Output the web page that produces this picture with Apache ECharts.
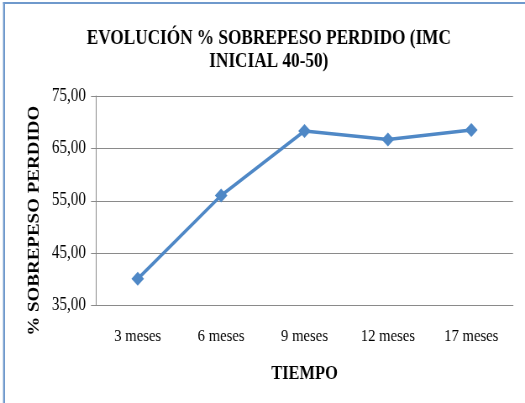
<!DOCTYPE html>
<html><head><meta charset="utf-8">
<script src="https://cdn.jsdelivr.net/npm/echarts@6/dist/echarts.min.js"></script>
<style>html,body{margin:0;padding:0;background:#fff;overflow:hidden;width:525px;height:403px}
#c{width:625px;height:403px;transform:scaleX(0.84);transform-origin:0 0}</style>
</head><body><div id="c"></div>
<script>
const categories = ['3 meses','6 meses','9 meses','12 meses','17 meses'];
const sobrepeso = [40.1, 56.0, 68.3, 66.7, 68.5];
const yTicks = [35, 45, 55, 65, 75];

const chart = echarts.init(document.getElementById('c'));
const serif = 'Liberation Serif, Times New Roman, serif';
chart.setOption({
  animation: false,
  title: {
    text: 'EVOLUCIÓN % SOBREPESO PERDIDO (IMC\nINICIAL 40-50)',
    left: 315, top: 22, textAlign: 'center',
    textStyle: {fontFamily: serif, fontWeight: 'bold', fontSize: 20.5, color: '#000', lineHeight: 23}
  },
  graphic: [
    {type: 'rect', shape: {x: 3.6, y: 2, width: 2.4, height: 401}, style: {fill: '#6f99cc'}},
    {type: 'rect', shape: {x: 3.6, y: 2, width: 622, height: 2}, style: {fill: '#6f99cc'}}
  ],
  grid: {left: 114.3, right: 14.3, top: 96, bottom: 97.5},
  xAxis: {
    type: 'category', data: categories, boundaryGap: true,
    name: 'TIEMPO', nameLocation: 'middle', nameGap: 58,
    nameTextStyle: {fontFamily: serif, fontWeight: 'bold', fontSize: 19.5, color: '#000'},
    axisLine: {lineStyle: {color: '#8a8a8a', width: 1}},
    axisTick: {show: false},
    axisLabel: {fontFamily: serif, fontSize: 17.5, color: '#000', margin: 22}
  },
  yAxis: {
    type: 'value', min: yTicks[0], max: yTicks[yTicks.length-1], interval: 10,
    name: '% SOBREPESO PERDIDO', nameLocation: 'middle', nameGap: 63, nameRotate: 90,
    nameTextStyle: {fontFamily: serif, fontWeight: 'bold', fontSize: 19, color: '#000', padding: [0, 40, 0, 0]},
    axisLine: {show: true, lineStyle: {color: '#8a8a8a', width: 1}},
    axisTick: {show: true, length: 6, inside: false, lineStyle: {color: '#8a8a8a'}},
    splitLine: {lineStyle: {color: '#8a8a8a', width: 1}},
    axisLabel: {fontFamily: serif, fontSize: 18, color: '#000', margin: 12,
      formatter: v => v.toFixed(2).replace('.', ',')}
  },
  series: [{
    type: 'line', data: sobrepeso,
    symbol: 'diamond', symbolSize: [15, 14],
    lineStyle: {color: '#4f88c6', width: 3.5},
    itemStyle: {color: '#4f88c6'}
  }]
});
</script></body></html>
